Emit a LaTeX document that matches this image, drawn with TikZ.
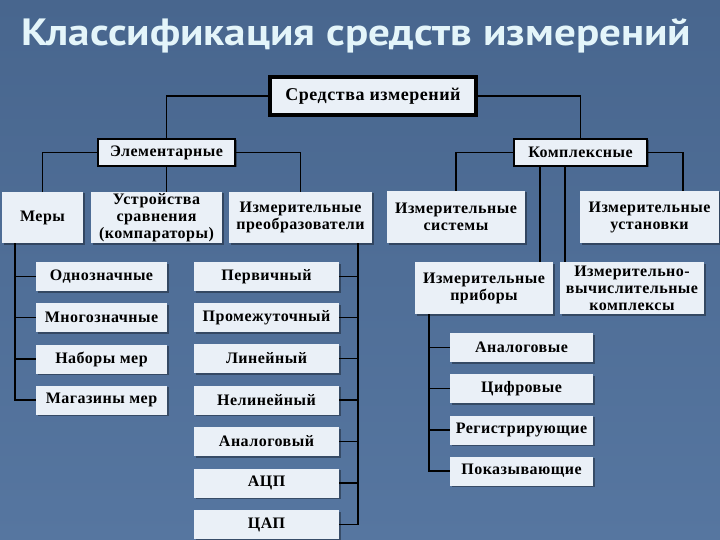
\documentclass[tikz,border=0pt]{standalone}
\usepackage{fontspec}
\setmainfont{Liberation Serif}
\newfontfamily\titlefont{PT Sans}
\newfontfamily\boxfont[LetterSpace=3]{Liberation Serif}
\usetikzlibrary{shadows,calc}
\definecolor{bgtop}{HTML}{48668E}
\definecolor{bgbot}{HTML}{5676A0}
\definecolor{boxfill}{HTML}{EAF0F7}
\definecolor{titlecol}{HTML}{E4F5FA}
\tikzset{
  box/.style={fill=boxfill, draw=none, inner sep=1pt, align=center,
    font=\boxfont\bfseries\fontsize{16}{17}\selectfont, text=black,
    drop shadow={shadow xshift=1.5pt, shadow yshift=-1.5pt, opacity=0.35, fill=black}},
  framed/.style={box, draw=black, line width=1.6pt},
  conn/.style={draw=black, line width=1.6pt},
}
\begin{document}
\begin{tikzpicture}[x=1pt,y=-1pt]
\shade[top color=bgtop, bottom color=bgbot] (0,0) rectangle (720,540);
\useasboundingbox (0,0) rectangle (720,540);
\node[anchor=base west, text=titlecol, font=\titlefont\bfseries\fontsize{38}{40}\selectfont, inner sep=0] (title) at (21,46) {\scalebox{1.134}[1]{Классификация средств измерений}};

% level 0
\node[box, draw=black, line width=4pt, minimum width=206, minimum height=38, font=\boxfont\bfseries\fontsize{18}{20}\selectfont] (top) at (373,96) {Средства измерений};
% level 1
\node[framed, minimum width=137, minimum height=27] (elem) at (166.5,152.5) {Элементарные};
\node[framed, minimum width=133, minimum height=27] (komp) at (580.5,152.5) {Комплексные};
% level 2
\node[box, minimum width=81, minimum height=51] (mery) at (42.5,217.5) {Меры};
\node[box, minimum width=131, minimum height=51] (ustr) at (156.5,217.5) {Устройства\\сравнения\\(компараторы)};
\node[box, minimum width=143, minimum height=51] (preobr) at (300.5,217.5) {Измерительные\\преобразователи};
\node[box, minimum width=138, minimum height=52] (sist) at (456,217) {Измерительные\\системы};
\node[box, minimum width=139, minimum height=52] (ustan) at (649.5,217) {Измерительные\\установки};
\node[box, minimum width=138, minimum height=52] (pribory) at (484,288) {Измерительные\\приборы};
\node[box, minimum width=144, minimum height=52] (ivk) at (632,288) {Измерительно-\\вычислительные\\комплексы};
% measures
\node[box, minimum width=131, minimum height=29] (odn) at (101.5,276.5) {Однозначные};
\node[box, minimum width=131, minimum height=29] (mnog) at (101.5,317.5) {Многозначные};
\node[box, minimum width=131, minimum height=29] (nab) at (101.5,359) {Наборы мер};
\node[box, minimum width=131, minimum height=29] (mag) at (101.5,400) {Магазины мер};
% converters
\node[box, minimum width=145, minimum height=29] (perv) at (266.5,276.5) {Первичный};
\node[box, minimum width=145, minimum height=29] (prom) at (266.5,317.5) {Промежуточный};
\node[box, minimum width=145, minimum height=29] (lin) at (266.5,358.5) {Линейный};
\node[box, minimum width=145, minimum height=29] (nelin) at (266.5,400) {Нелинейный};
\node[box, minimum width=145, minimum height=29] (analog) at (266.5,441.5) {Аналоговый};
\node[box, minimum width=145, minimum height=29] (acp) at (266.5,483) {АЦП};
\node[box, minimum width=145, minimum height=29] (cap) at (266.5,524.5) {ЦАП};
% instruments
\node[box, minimum width=143, minimum height=29] (an) at (521.5,347.5) {Аналоговые};
\node[box, minimum width=143, minimum height=29] (cif) at (521.5,388.5) {Цифровые};
\node[box, minimum width=143, minimum height=29] (reg) at (521.5,430) {Регистрирующие};
\node[box, minimum width=143, minimum height=29] (pok) at (521.5,471) {Показывающие};

% connectors
\draw[conn] (top.west) -| (elem.north);
\draw[conn] (top.east) -| (komp.north);
\draw[conn] (elem.west) -| (mery.north);
\draw[conn] (elem.south) -- (elem.south |- ustr.north);
\draw[conn] (elem.east) -| (preobr.north);
\draw[conn] (komp.west) -| (sist.north);
\draw[conn] (komp.east) -| ([xshift=33.5pt]ustan.north);
\coordinate (k1) at ([xshift=-40.5pt]komp.south);
\coordinate (k2) at ([xshift=-15.5pt]komp.south);
\draw[conn] (k1) -- (k1 |- pribory.north);
\draw[conn] (k2) -- (k2 |- ivk.north);

\coordinate (ms) at ([xshift=-27.5pt]mery.south);
\draw[conn] (ms) |- (mag.west);
\foreach \n in {odn,mnog,nab} \draw[conn] (\n.west) -- (\n.west -| ms);

\coordinate (ps) at ([xshift=57.5pt]preobr.south);
\draw[conn] (ps) |- (cap.east);
\foreach \n in {perv,prom,lin,nelin,analog,acp} \draw[conn] (\n.east) -- (\n.east -| ps);

\coordinate (prs) at ([xshift=-55pt]pribory.south);
\draw[conn] (prs) |- (pok.west);
\foreach \n in {an,cif,reg} \draw[conn] (\n.west) -- (\n.west -| prs);
\end{tikzpicture}
\end{document}
